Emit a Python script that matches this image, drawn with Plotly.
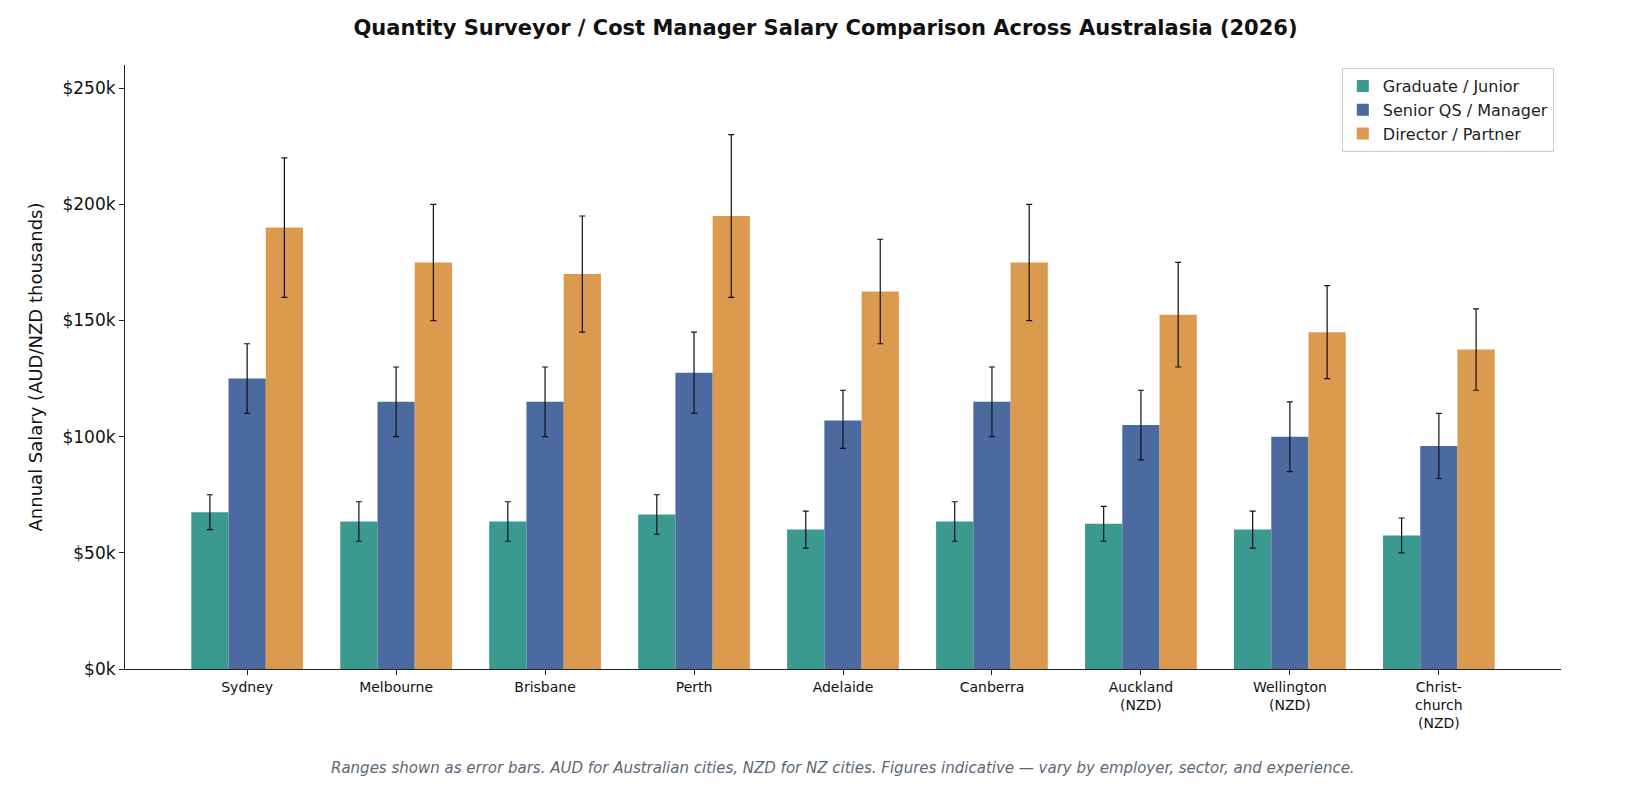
import plotly.graph_objects as go

cities = ["Sydney", "Melbourne", "Brisbane", "Perth", "Adelaide", "Canberra",
          "Auckland<br>(NZD)", "Wellington<br>(NZD)", "Christ-<br>church<br>(NZD)"]
grad = [67.5, 63.5, 63.5, 66.5, 60, 63.5, 62.5, 60, 57.5]
grad_lo = [60, 55, 55, 58, 52, 55, 55, 52, 50]
grad_hi = [75, 72, 72, 75, 68, 72, 70, 68, 65]
senior = [125, 115, 115, 127.5, 107, 115, 105, 100, 96]
senior_lo = [110, 100, 100, 110, 95, 100, 90, 85, 82]
senior_hi = [140, 130, 130, 145, 120, 130, 120, 115, 110]
director = [190, 175, 170, 195, 162.5, 175, 152.5, 145, 137.5]
director_lo = [160, 150, 145, 160, 140, 150, 130, 125, 120]
director_hi = [220, 200, 195, 230, 185, 200, 175, 165, 155]
yticks = [0, 50, 100, 150, 200, 250]

series = [("Graduate / Junior", grad, grad_lo, grad_hi, "#3b9a8f"),
          ("Senior QS / Manager", senior, senior_lo, senior_hi, "#4a6aa0"),
          ("Director / Partner", director, director_lo, director_hi, "#dc9a4e")]

fig = go.Figure()
for name, v, lo, hi, c in series:
    fig.add_trace(go.Bar(
        x=list(range(len(cities))), y=v, name=name, marker_color=c, marker_line_width=0,
        error_y=dict(type="data", symmetric=False,
                     array=[h - a for h, a in zip(hi, v)],
                     arrayminus=[a - l for a, l in zip(v, lo)],
                     color="#111", thickness=1.2, width=3)))

fig.update_layout(
    width=1635, height=809, barmode="group", bargap=0.25, bargroupgap=0,
    plot_bgcolor="white", paper_bgcolor="white",
    font=dict(family="DejaVu Sans", color="#222"),
    margin=dict(l=117, r=82, t=57, b=148),
    title=dict(text="<b>Quantity Surveyor / Cost Manager Salary Comparison Across Australasia (2026)</b>",
               x=0.5, xanchor="center", y=0.985, yanchor="top", font=dict(size=21, color="#111")),
    legend=dict(x=0.995, y=0.995, xanchor="right", yanchor="top", bordercolor="#ccc",
                borderwidth=1, font=dict(size=16), bgcolor="rgba(255,255,255,0.9)"),
    xaxis=dict(tickmode="array", tickvals=list(range(len(cities))), ticktext=cities,
               range=[-0.82, 8.82], showline=True, linecolor="#222", ticks="outside",
               tickcolor="#222", ticklen=5, tickfont=dict(size=14, color="#111")),
    yaxis=dict(range=[0, 260], tickvals=yticks, ticktext=[f"${t}k" for t in yticks],
               showline=True, linecolor="#222", ticks="outside", tickcolor="#222", ticklen=5,
               showgrid=False, zeroline=False, tickfont=dict(size=17, color="#111"),
               title=dict(text="Annual Salary (AUD/NZD thousands)", font=dict(size=18, color="#111"))),
    annotations=[dict(text="<i>Ranges shown as error bars. AUD for Australian cities, NZD for NZ cities. Figures indicative — vary by employer, sector, and experience.</i>",
                      xref="paper", yref="paper", x=0.5, y=-0.145, xanchor="center", yanchor="top",
                      showarrow=False, font=dict(size=15, color="#5a6878"))],
)
fig.write_html("out.html")
